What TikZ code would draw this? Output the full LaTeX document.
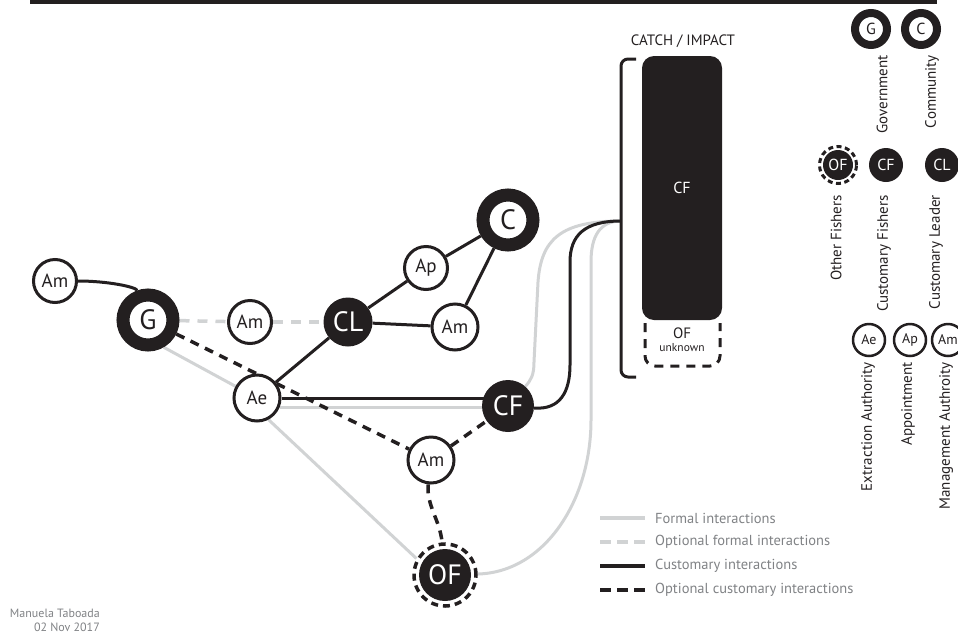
\documentclass[tikz,border=0pt]{standalone}
\usepackage{fontspec}
\setmainfont{PT Sans}
\usetikzlibrary{backgrounds}

\definecolor{ink}{HTML}{231F20}
\definecolor{formalgray}{HTML}{D1D3D4}
\definecolor{keygray}{HTML}{808285}
\newcommand{\fsz}[1]{\fontsize{#1}{#1}\selectfont}

\begin{document}
\begin{tikzpicture}[%
            x=1pt,
            y=-1pt,
            ]
    \tikzset{authority/.style = {circle, draw=ink, line width=3pt, fill=white, text=ink, inner sep=0pt, minimum size=#1, font=\fsz{19}}}
    \tikzset{authority/.default = 44pt}
    \tikzset{power/.style = {circle, draw=ink, line width=13pt, fill=white, text=ink, inner sep=0pt, minimum size=50pt, font=\fsz{28}}}
    \tikzset{fisher/.style = {circle, fill=ink, text=white, inner sep=0pt, minimum size=#1, font=\fsz{28}}}
    \tikzset{otherring/.style = {draw=ink, line width=3.5pt, dash pattern=on 7pt off 5pt}}
    \tikzset{formal/.style = {formalgray, line width=3pt}}
    \tikzset{optformal/.style = {formal, line width=3.5pt, dash pattern=on 10pt off 8pt}}
    \tikzset{custom/.style = {ink, line width=3pt}}
    \tikzset{optcustom/.style = {ink, line width=3.5pt, dash pattern=on 9pt off 7pt}}
    \tikzset{legtext/.style = {anchor=west, text=keygray, inner sep=0pt, font=\fsz{14.5}}}
    \tikzset{keylabel/.style = {rotate=90, anchor=east, inner sep=0pt, text=ink, font=\fsz{15}}}

    \useasboundingbox (0,0) rectangle (958,635);
    \fill[ink] (30,0) rectangle (937,3.5);

    % Actors
    \node[authority=43pt] (Am1) at (55,281) {Am};
    \node[power] (G) at (148,320) {G};
    \node[authority=43pt] (Am2) at (250,322) {Am};
    \node[fisher=49pt] (CL) at (348,322) {CL};
    \node[authority=43pt] (Ap) at (426,268) {Ap};
    \node[power] (C) at (508,220) {C};
    \node[authority=46pt] (Am3) at (455,327) {Am};
    \node[authority=46pt] (Ae) at (257,398) {Ae};
    \node[fisher=52pt] (CF) at (508,406) {CF};
    \node[authority=46pt] (Am4) at (431,460) {Am};
    \node[fisher=52pt, outer sep=7pt] (OF) at (445,575) {OF};
    \draw[otherring] (OF) circle (31pt);

    % Catch / impact
    \node[text=ink, font=\fsz{15}] (catchtitle) at (683,41) {CATCH / IMPACT};
    \node[fill=ink, rounded corners=12pt, minimum width=80pt, minimum height=264pt, text=white, font=\fsz{16}] (catch) at (682,188) {CF};
    \draw[optcustom, line width=3pt, rounded corners=10pt] (645,323) -- (645,366) -- (720,366) -- (720,323);
    \node[text=ink, font=\fsz{15}] (unkOF) at (682,333) {OF};
    \node[text=ink, font=\fsz{11.5}] (unk) at (682,348) {unknown};
    \draw[custom, rounded corners=7pt] (636,59) -- (621,59) -- (621,377) -- (636,377);
    \coordinate (brk) at (621,221);

    % Interactions
    \begin{scope}[on background layer]
    \draw[formal] (G.-60) -- (Ae);
    \draw[formal] (Ae.-62) -- (OF.150);
    \draw[formal] (Ae.-22) -- (Ae.-22 -| CF);
    \draw[formal] (CF) .. controls (531,380) and (534,375) .. (534,362) -- (538,282) .. controls (541,240) and (560,221) .. (brk);
    \draw[formal] (OF) .. controls (545,572) and (591,500) .. (591,420) -- (591,262) .. controls (591,236) and (600,221) .. (brk);
    \draw[optformal] (G) -- (Am2);
    \draw[optformal] (Am2) -- (CL);
    \draw[custom] (Am1) .. controls (108,281) and (136,287) .. (G);
    \draw[custom] (Ae) -- (CL);
    \draw[custom] (CL) -- (Ap);
    \draw[custom] (Ap) -- (C);
    \draw[custom] (CL) -- (Am3);
    \draw[custom] (Am3) -- (C);
    \draw[custom] (Ae) -- (Ae -| CF);
    \draw[custom] (CF) .. controls (560,410) and (570,392) .. (570,365) -- (570,262) .. controls (570,235) and (585,221) .. (brk);
    \draw[optcustom] (G) -- (Am4);
    \draw[optcustom] (Am4) -- (CF);
    \draw[optcustom] (Am4) .. controls (426,505) and (440,520) .. (OF);
    \end{scope}

    % Key of actors
    \node[power, minimum size=32pt, line width=8pt, font=\fsz{16}] (keyG) at (871,29) {G};
    \node[power, minimum size=32pt, line width=8pt, font=\fsz{16}] (keyC) at (921,29) {C};
    \node[keylabel] (keyGtext) at (882,55) {Government};
    \node[keylabel] (keyCtext) at (932,55) {Community};
    \node[fisher=30pt, font=\fsz{16}] (keyOF) at (838,165) {OF};
    \draw[otherring, line width=3pt, dash pattern=on 5pt off 3.5pt] (keyOF) circle (18.5pt);
    \node[fisher=34pt, font=\fsz{16}] (keyCF) at (886,165) {CF};
    \node[fisher=34pt, font=\fsz{16}] (keyCL) at (942,165) {CL};
    \node[keylabel] (keyOFtext) at (836,195) {Other Fishers};
    \node[keylabel] (keyCFtext) at (884,195) {Customary Fishers};
    \node[keylabel] (keyCLtext) at (936,195) {Customary Leader};
    \node[authority=32pt, line width=2.5pt, font=\fsz{14}] (keyAe) at (869,340) {Ae};
    \node[authority=32pt, line width=2.5pt, font=\fsz{14}] (keyAp) at (910,340) {Ap};
    \node[authority=32pt, line width=2.5pt, font=\fsz{14}] (keyAm) at (948,340) {Am};
    \node[keylabel] (keyAetext) at (868,362) {Extraction Authority};
    \node[keylabel] (keyAptext) at (908,362) {Appointment};
    \node[keylabel] (keyAmtext) at (946,362) {Management Authroity};

    % Key of interactions
    \node[legtext] (lgF) at (655,518) {Formal interactions};
    \node[legtext] (lgOF) at (655,542) {Optional formal interactions};
    \node[legtext] (lgC) at (655,566) {Customary interactions};
    \node[legtext] (lgOC) at (655,590) {Optional customary interactions};
    \coordinate (sF) at (600,518);
    \coordinate (sOF) at (600,542);
    \coordinate (sC) at (600,566);
    \coordinate (sOC) at (600,590);
    \draw[formal, line width=3.5pt] (sF) -- ([xshift=-10pt]lgF.west);
    \draw[optformal, dash pattern=on 11pt off 6pt] (sOF) -- ([xshift=-10pt]lgOF.west);
    \draw[custom, line width=3.5pt] (sC) -- ([xshift=-10pt]lgC.west);
    \draw[optcustom, dash pattern=on 11pt off 6pt] (sOC) -- ([xshift=-10pt]lgOC.west);

    % Credit
    \node[anchor=east, inner sep=0pt, text=keygray, font=\fsz{12}] (credit) at (100,613) {Manuela Taboada};
    \node[anchor=east, inner sep=0pt, text=keygray, font=\fsz{12}] (date) at (100,627) {02 Nov 2017};

\end{tikzpicture}
\end{document}
